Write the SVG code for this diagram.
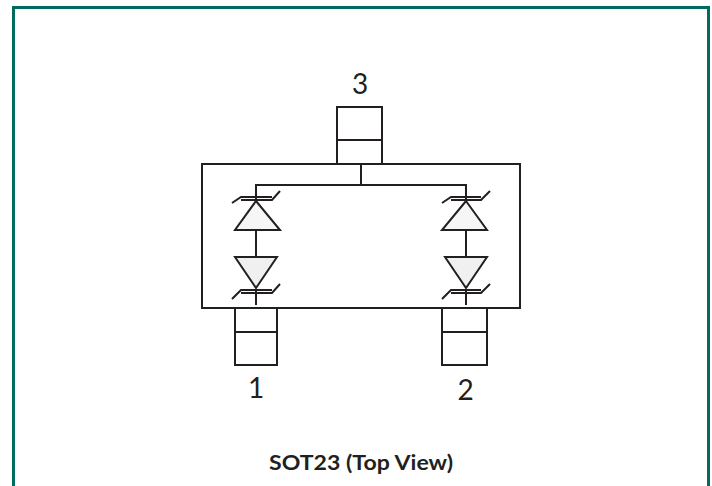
<svg xmlns="http://www.w3.org/2000/svg" width="712" height="486" viewBox="0 0 712 486">
<style>
.f{fill:none;stroke:#231f20;stroke-width:2}
.z{fill:none;stroke:#231f20;stroke-width:2}
.u{fill:#f6f6f6;stroke:#231f20;stroke-width:2}
.l{fill:#f0f0f0;stroke:#231f20;stroke-width:2}
text{font-family:Lato,"Open Sans",sans-serif;fill:#231f20}
.n{font-size:28px;text-anchor:middle}
</style>
<rect width="712" height="486" fill="#fff"/>
<path id="frame" d="M13.500 486V7.500H708.500V486" fill="none" stroke="#006b5e" stroke-width="3"/>
<g id="package"><rect class="f" x="202" y="164" width="318" height="144"/></g>
<g id="pin3"><rect class="f" x="337" y="107" width="45" height="57"/><path class="f" d="M337 140H382"/><text class="n" x="360" y="94">3</text></g>
<g id="pin1"><rect class="f" x="235" y="308" width="42" height="57"/><path class="f" d="M235 332H277"/><text class="n" x="256" y="398">1</text></g>
<g id="pin2"><rect class="f" x="442" y="308" width="45" height="57"/><path class="f" d="M442 332H487"/><text class="n" x="465.500" y="400">2</text></g>
<g id="connectors">
<path class="f" d="M361 164V185M256 200V185H466V200M256 230V257M466 230V257M256 290V305M466 290V305"/>
</g>
<g id="d1"><path class="u" d="M256 201L280 230H235Z"/><path class="z" d="M232 203L241 197H272M241 200H272L280 191"/></g>
<g id="d2"><path class="l" d="M235 257H277L256 288Z"/><path class="z" d="M232 299L241 290H272M241 293H272L280 284"/></g>
<g id="d3"><path class="u" d="M466 201L487 230H442Z"/><path class="z" d="M442 203L451 197H481M451 200H481L490 191"/></g>
<g id="d4"><path class="l" d="M445 257H487L466 288Z"/><path class="z" d="M442 299L451 290H481M451 293H481L490 284"/></g>
<text id="caption" x="361" y="470" text-anchor="middle" font-size="21" font-weight="700" textLength="184" lengthAdjust="spacingAndGlyphs">SOT23 (Top View)</text>
</svg>
